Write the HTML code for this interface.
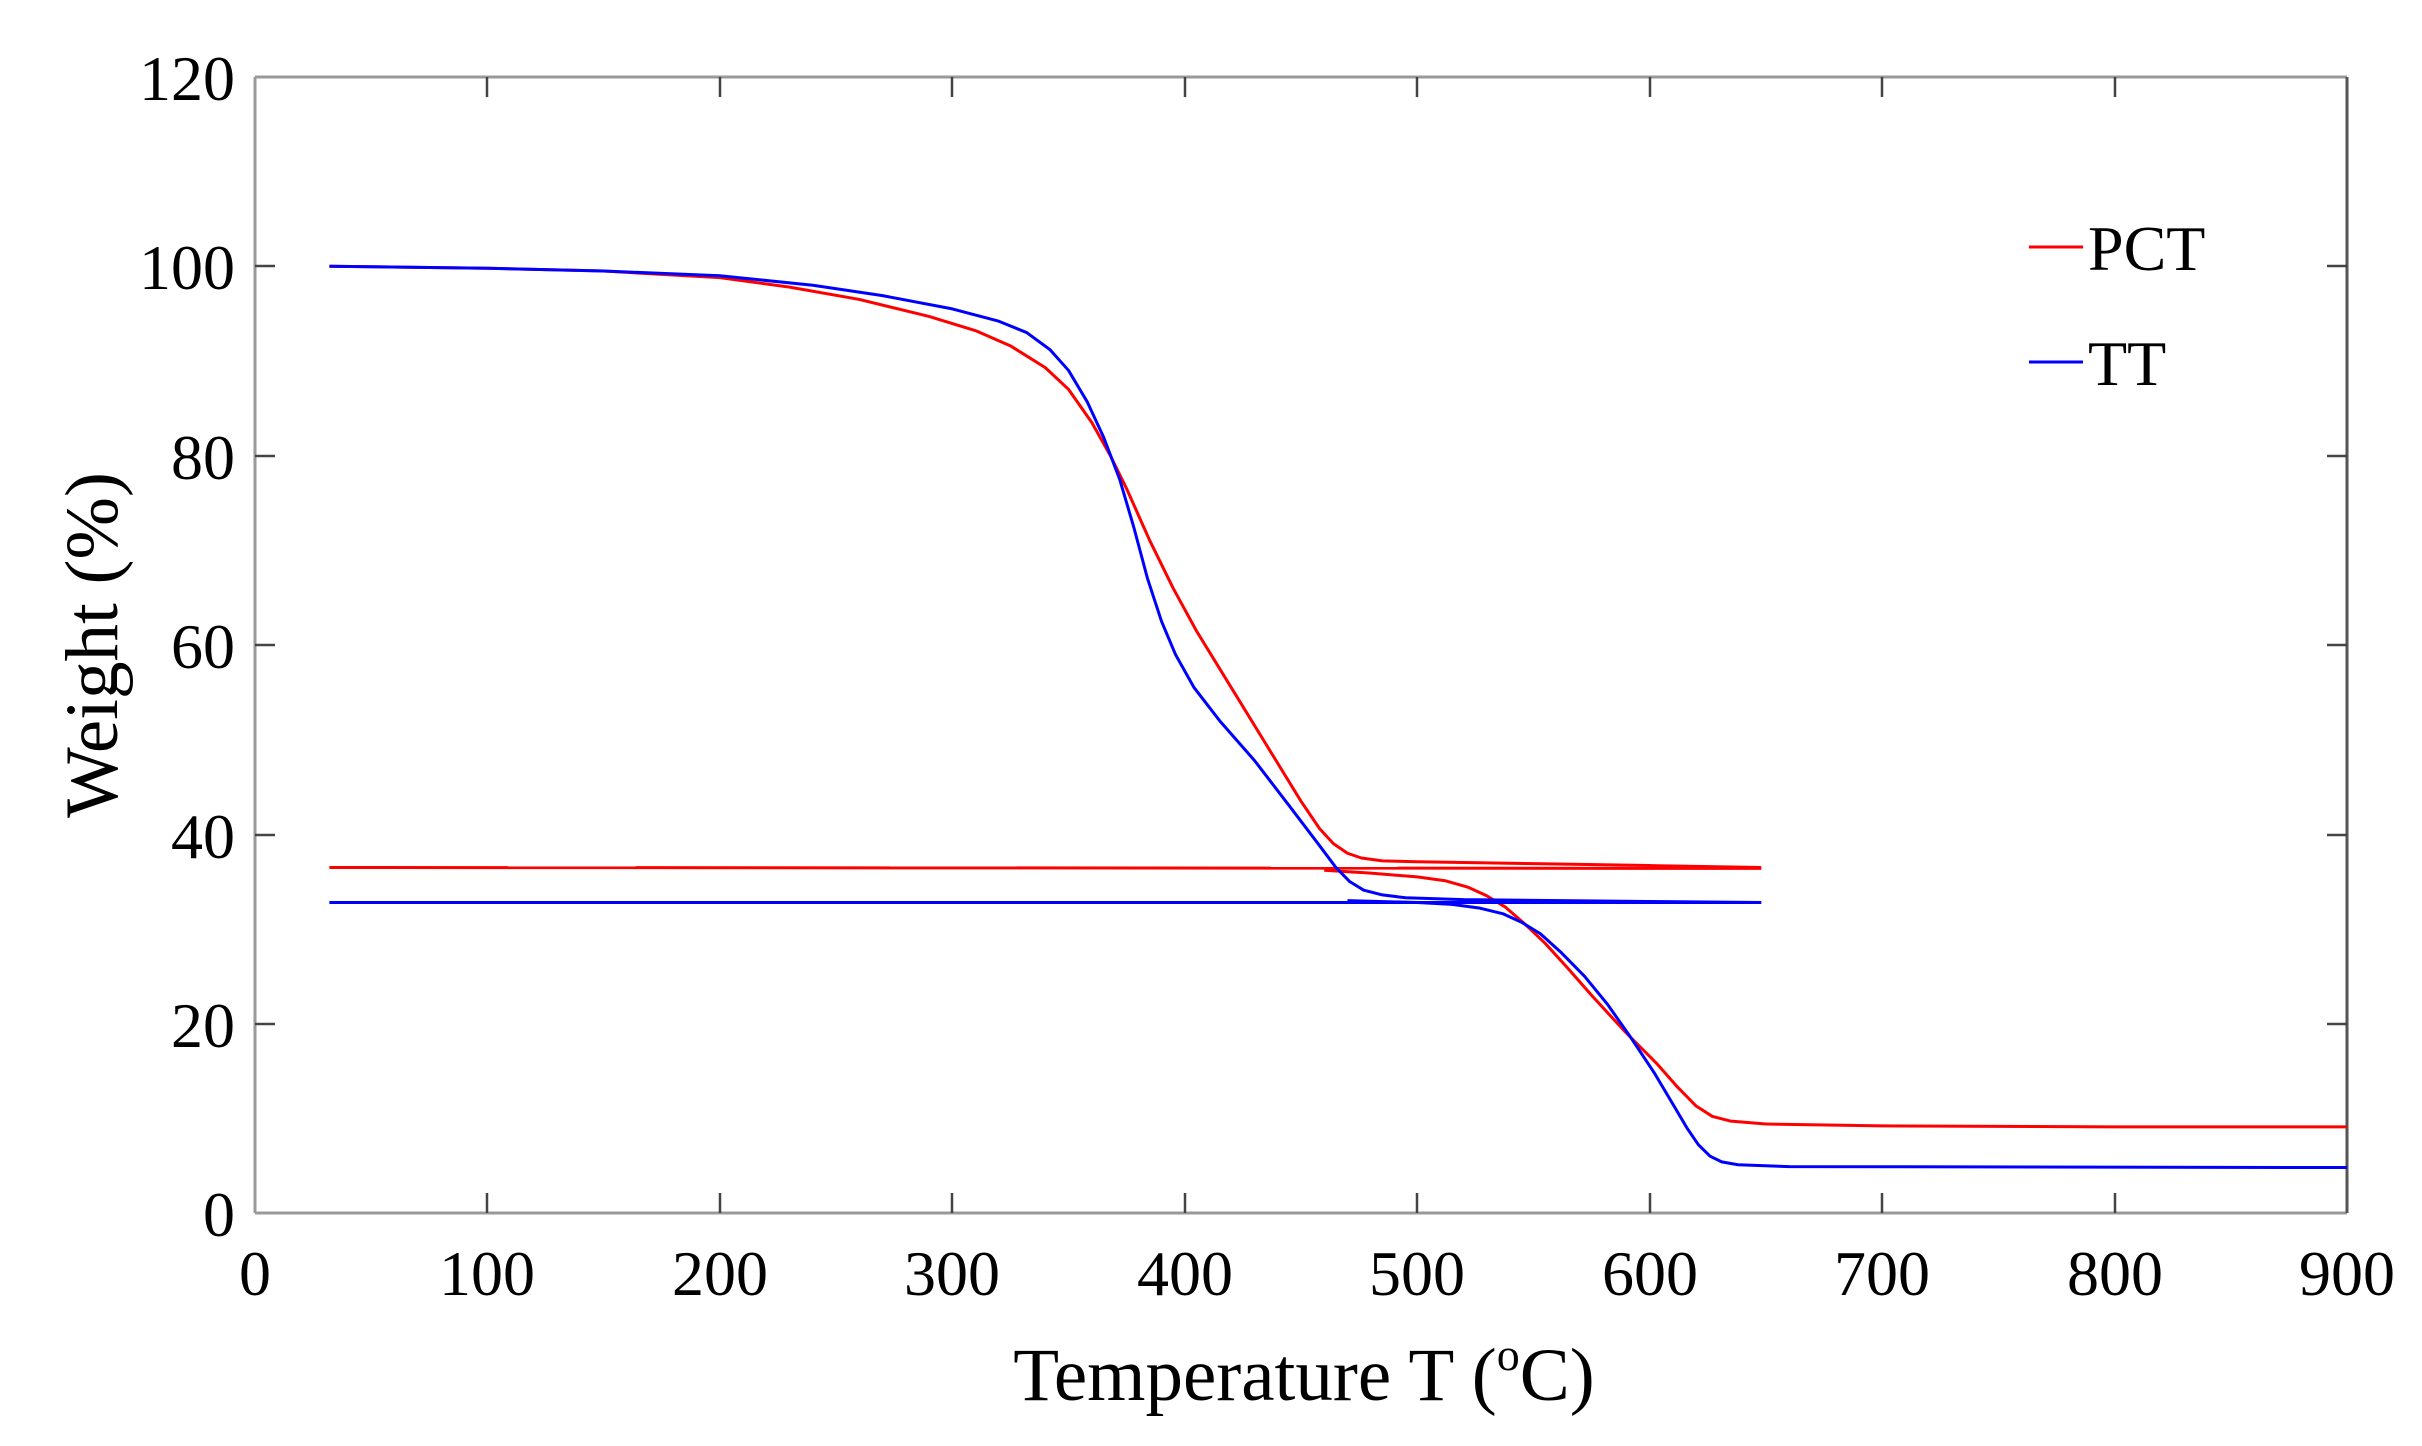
<!DOCTYPE html>
<html><head><meta charset="utf-8"><style>
html,body{margin:0;padding:0;background:#fff;}
svg{display:block;font-family:"Liberation Serif",serif;}
</style></head><body>
<svg width="2422" height="1446" viewBox="0 0 2422 1446" xmlns="http://www.w3.org/2000/svg">
<rect width="2422" height="1446" fill="#fff"/>
<g stroke="#999" stroke-width="3" fill="none">
<line x1="255" y1="77" x2="2347" y2="77"/>
<line x1="255" y1="1213" x2="2347" y2="1213"/>
<line x1="255" y1="77" x2="255" y2="1213"/>
<line x1="2347" y1="77" x2="2347" y2="1213" stroke="#555"/>
</g>
<g stroke="#444" stroke-width="2.5">
<line x1="487" y1="1213" x2="487" y2="1193"/><line x1="720" y1="1213" x2="720" y2="1193"/><line x1="952" y1="1213" x2="952" y2="1193"/><line x1="1185" y1="1213" x2="1185" y2="1193"/><line x1="1417" y1="1213" x2="1417" y2="1193"/><line x1="1650" y1="1213" x2="1650" y2="1193"/><line x1="1882" y1="1213" x2="1882" y2="1193"/><line x1="2115" y1="1213" x2="2115" y2="1193"/>
<line x1="487" y1="77" x2="487" y2="97"/><line x1="720" y1="77" x2="720" y2="97"/><line x1="952" y1="77" x2="952" y2="97"/><line x1="1185" y1="77" x2="1185" y2="97"/><line x1="1417" y1="77" x2="1417" y2="97"/><line x1="1650" y1="77" x2="1650" y2="97"/><line x1="1882" y1="77" x2="1882" y2="97"/><line x1="2115" y1="77" x2="2115" y2="97"/>
<line x1="255" y1="1024" x2="275" y2="1024"/><line x1="255" y1="835" x2="275" y2="835"/><line x1="255" y1="645" x2="275" y2="645"/><line x1="255" y1="456" x2="275" y2="456"/><line x1="255" y1="266" x2="275" y2="266"/>
<line x1="2347" y1="1024" x2="2327" y2="1024"/><line x1="2347" y1="835" x2="2327" y2="835"/><line x1="2347" y1="645" x2="2327" y2="645"/><line x1="2347" y1="456" x2="2327" y2="456"/><line x1="2347" y1="266" x2="2327" y2="266"/>
</g>
<g font-size="64" fill="#000" text-anchor="end">
<text x="235" y="1236">0</text><text x="235" y="1047">20</text><text x="235" y="858">40</text><text x="235" y="668">60</text><text x="235" y="479">80</text><text x="235" y="289">100</text><text x="235" y="100">120</text>
</g>
<g font-size="64" fill="#000" text-anchor="middle">
<text x="255" y="1295">0</text><text x="487" y="1295">100</text><text x="720" y="1295">200</text><text x="952" y="1295">300</text><text x="1185" y="1295">400</text><text x="1417" y="1295">500</text><text x="1650" y="1295">600</text><text x="1882" y="1295">700</text><text x="2115" y="1295">800</text><text x="2347" y="1295">900</text>
</g>
<text x="1304" y="1400" font-size="75" text-anchor="middle">Temperature T (<tspan font-size="46" dy="-30">o</tspan><tspan dy="30">C)</tspan></text>
<text transform="translate(117,645) rotate(-90)" font-size="75" text-anchor="middle">Weight (%)</text>
<line x1="2029" y1="247" x2="2083" y2="247" stroke="#f00" stroke-width="3"/>
<text x="2088" y="270" font-size="64">PCT</text>
<line x1="2029" y1="362" x2="2083" y2="362" stroke="#00f" stroke-width="3"/>
<text x="2088" y="385" font-size="64">TT</text>
<g transform="translate(255,1213) scale(2.3244,-9.467)" fill="none" stroke-width="3" stroke-linejoin="round">
<polyline vector-effect="non-scaling-stroke" stroke="#f00" points="32,36.5 648,36.4"/>
<polyline vector-effect="non-scaling-stroke" stroke="#f00" points="32,100 100,99.8 150,99.5 200,98.8 230,97.8 260,96.5 290,94.7 310,93.2 325,91.6 340,89.3 350,87 360,83.5 368,80 375,76.5 385,71 395,66 405,61.5 420,55.5 435,49.5 450,43.5 458,40.6 464,39 470,38 476,37.5 485,37.2 500,37.1 550,36.9 600,36.7 648,36.5"/>
<polyline vector-effect="non-scaling-stroke" stroke="#f00" points="460,36.2 480,35.9 500,35.5 512,35.1 522,34.4 530,33.5 538,32.3 546,30.6 555,28.5 565,25.8 575,23 590,19 603,15.8 612,13.3 620,11.3 627,10.2 635,9.7 650,9.4 700,9.2 800,9.1 900,9.1"/>
<polyline vector-effect="non-scaling-stroke" stroke="#00f" points="32,32.8 648,32.8"/>
<polyline vector-effect="non-scaling-stroke" stroke="#00f" points="32,100 100,99.8 150,99.5 200,99 240,98 270,96.9 300,95.5 320,94.2 332,93 342,91.2 350,89 358,85.7 365,82 372,77.5 378,72.5 384,67 390,62.5 396,59 404,55.5 415,52 430,47.8 445,43 458,38.8 465,36.5 471,35 477,34.1 485,33.6 495,33.3 520,33.1 600,32.9 648,32.8"/>
<polyline vector-effect="non-scaling-stroke" stroke="#00f" points="470,33 500,32.8 515,32.6 527,32.2 537,31.6 545,30.7 553,29.5 562,27.5 572,25 582,22 592,18.5 602,14.8 610,11.5 616,9 621,7.2 626,6 631,5.4 638,5.1 660,4.9 900,4.8"/>
</g>
</svg>
</body></html>
